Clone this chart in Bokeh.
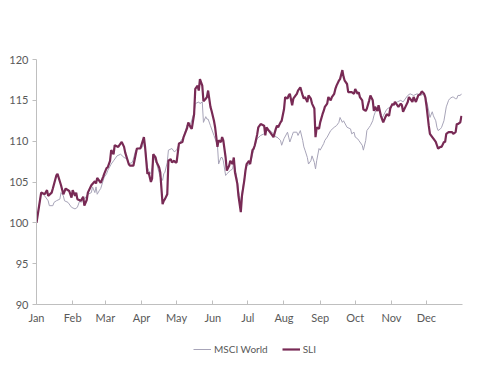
import pandas as pd
from bokeh.plotting import figure
from bokeh.layouts import column
from bokeh.models import (ColumnDataSource, Legend, LegendItem, MonthsTicker,
                          DatetimeTickFormatter, FixedTicker, Range1d)
from bokeh.embed import file_html
from bokeh.resources import INLINE

base_date = "2015-01-01"

# SLI series: day offset from Jan 1, index value
sli_day = [0, 4, 7, 9, 10, 13, 14, 17, 18, 21, 23, 25, 28, 30, 31, 33, 34, 35, 38, 40,
           41, 43, 44, 47, 50, 51, 52, 55, 57, 58, 60, 61, 63, 64, 66, 67, 70, 73, 75, 76,
           79, 80, 83, 86, 89, 92, 93, 95, 96, 98, 99, 100, 102, 103, 105, 106, 108, 109, 110, 112,
           113, 115, 116, 118, 119, 120, 122, 125, 126, 129, 130, 132, 133, 135, 136, 138, 139, 140, 142, 143,
           145, 146, 147, 149, 150, 152, 153, 155, 156, 158, 159, 160, 162, 163, 165, 166, 168, 169, 170, 172,
           173, 175, 176, 178, 179, 180, 182, 183, 185, 186, 187, 189, 190, 192, 195, 196, 197, 199, 200, 202,
           203, 205, 206, 207, 209, 210, 212, 213, 215, 216, 217, 219, 220, 222, 223, 224, 226, 228, 229, 230,
           232, 233, 235, 236, 238, 239, 240, 242, 243, 245, 246, 247, 249, 250, 252, 253, 255, 256, 257, 259,
           260, 262, 263, 264, 266, 267, 269, 270, 272, 273, 275, 276, 277, 279, 280, 282, 283, 285, 286, 288,
           289, 290, 292, 293, 295, 296, 297, 299, 300, 302, 303, 305, 306, 307, 309, 310, 312, 313, 314, 316,
           318, 319, 320, 322, 323, 325, 326, 327, 329, 330, 332, 333, 334, 336, 337, 339, 340, 342, 343, 344,
           346, 347, 349, 350, 351, 353, 354, 356, 357, 359, 360, 361, 363, 364]
sli_val = [100.0, 103.7, 103.5, 104.0, 103.3, 103.7, 104.2, 105.8, 106.0, 104.6, 103.5, 104.2, 103.9, 103.1, 104.0, 103.3, 103.7, 102.9, 102.7, 103.2,
           102.1, 102.8, 103.7, 104.6, 105.1, 104.8, 105.5, 104.9, 105.6, 106.0, 106.7, 106.8, 107.6, 108.9, 108.4, 109.5, 109.3, 109.9, 109.3, 108.6,
           107.2, 107.0, 107.0, 109.1, 109.1, 110.5, 109.3, 106.0, 106.2, 105.0, 105.4, 108.4, 108.0, 107.4, 106.8, 106.2, 102.3, 102.7, 102.9, 103.5,
           107.6, 107.8, 107.4, 107.6, 107.4, 107.4, 109.7, 109.9, 110.5, 111.6, 112.3, 111.7, 111.5, 113.3, 116.4, 116.8, 116.2, 117.6, 116.8, 114.9,
           115.2, 115.4, 116.2, 114.2, 113.7, 112.5, 111.7, 109.3, 110.1, 109.9, 110.5, 110.1, 108.0, 106.4, 107.0, 107.6, 107.2, 108.0, 106.2, 104.8,
           103.3, 101.3, 103.3, 105.2, 106.4, 107.2, 107.6, 107.2, 108.9, 109.1, 109.5, 110.8, 111.7, 112.1, 111.9, 110.7, 111.7, 111.3, 111.1, 110.7,
           110.5, 111.5, 111.9, 111.7, 112.3, 112.5, 113.9, 115.4, 115.2, 115.6, 115.8, 114.4, 115.2, 115.6, 115.8, 116.2, 116.6, 115.6, 115.2, 115.4,
           114.8, 115.6, 115.2, 114.6, 114.0, 110.5, 111.7, 111.5, 112.3, 113.3, 113.7, 114.2, 114.6, 115.4, 115.0, 115.4, 115.8, 116.4, 116.8, 117.4,
           117.6, 118.7, 117.9, 117.4, 117.0, 116.0, 116.0, 116.0, 115.8, 116.4, 115.8, 116.0, 115.4, 115.0, 113.9, 113.7, 114.0, 115.0, 115.6, 115.0,
           113.7, 114.2, 113.7, 114.4, 113.1, 112.7, 112.3, 113.0, 113.3, 113.1, 114.0, 114.6, 114.4, 114.8, 114.4, 114.2, 114.6, 114.4, 113.6, 114.2,
           114.8, 115.4, 115.2, 114.8, 115.4, 114.8, 115.2, 115.6, 115.8, 116.1, 115.8, 115.4, 114.4, 111.9, 110.9, 110.5, 110.3, 109.9, 109.5, 109.1,
           109.3, 109.3, 109.9, 109.9, 110.9, 111.1, 111.1, 111.1, 110.9, 111.1, 112.1, 112.1, 112.3, 113.1]

# MSCI World series
msci_day = [0, 4, 7, 10, 11, 14, 15, 17, 20, 21, 23, 24, 27, 30, 33, 35, 37, 38, 41, 44,
            47, 48, 50, 51, 52, 54, 55, 58, 60, 61, 64, 66, 69, 72, 75, 78, 79, 82, 83, 85,
            87, 91, 92, 93, 95, 96, 98, 99, 100, 103, 106, 108, 109, 110, 112, 113, 116, 118, 120, 123,
            126, 129, 132, 135, 136, 139, 140, 142, 143, 145, 146, 147, 149, 152, 155, 156, 158, 159, 160, 162,
            163, 166, 168, 169, 172, 173, 175, 176, 178, 179, 180, 183, 186, 189, 192, 195, 197, 200, 203, 205,
            206, 209, 210, 212, 215, 216, 217, 219, 220, 223, 224, 226, 228, 229, 230, 232, 233, 235, 236, 238,
            239, 240, 242, 243, 246, 247, 249, 252, 255, 257, 259, 260, 262, 263, 266, 269, 270, 272, 273, 275,
            276, 277, 279, 280, 282, 283, 285, 286, 288, 289, 290, 292, 295, 296, 297, 300, 303, 306, 309, 312,
            314, 318, 320, 323, 326, 329, 332, 333, 334, 336, 337, 339, 340, 342, 343, 344, 346, 347, 349, 351,
            353, 354, 356, 357, 359, 360, 361, 363, 364]
msci_val = [100.0, 103.7, 103.3, 102.7, 102.1, 102.1, 102.5, 102.7, 102.9, 103.7, 103.3, 102.7, 102.5, 101.9, 101.7, 101.9, 102.7, 102.5, 102.9, 103.5,
            103.7, 104.4, 103.7, 104.4, 103.5, 104.0, 104.2, 105.6, 106.0, 106.4, 107.2, 107.6, 108.2, 108.4, 108.0, 107.8, 107.2, 107.4, 107.8, 108.9,
            109.1, 109.3, 110.3, 109.3, 106.8, 106.4, 106.0, 106.8, 108.2, 107.2, 105.6, 105.2, 106.0, 106.2, 107.4, 108.9, 109.1, 108.7, 108.9, 109.9,
            110.5, 112.0, 112.1, 113.5, 114.6, 114.8, 114.6, 114.8, 112.3, 113.0, 112.7, 112.7, 111.9, 110.7, 109.5, 107.2, 108.0, 108.0, 107.6, 105.8,
            106.0, 106.4, 106.6, 107.6, 105.2, 103.9, 102.5, 103.7, 105.4, 106.4, 107.0, 107.2, 108.9, 110.3, 110.7, 110.9, 111.3, 111.3, 110.9, 110.5,
            110.5, 110.1, 109.5, 110.3, 111.1, 110.5, 109.9, 110.7, 111.1, 111.1, 110.7, 111.3, 110.1, 109.3, 108.9, 108.0, 107.2, 107.6, 108.2, 107.4,
            106.6, 107.6, 109.1, 108.9, 109.7, 110.1, 110.5, 111.3, 111.7, 111.9, 112.3, 112.9, 112.3, 112.5, 111.7, 111.5, 110.9, 111.1, 110.5, 110.3,
            110.1, 109.9, 109.5, 108.9, 110.1, 111.3, 111.7, 111.9, 112.5, 113.1, 113.5, 114.2, 113.3, 112.7, 113.1, 113.9, 114.2, 114.6, 114.8, 115.0,
            114.8, 115.6, 115.8, 115.6, 115.8, 115.6, 115.8, 115.6, 115.0, 113.7, 112.9, 113.6, 113.1, 112.5, 111.7, 111.3, 111.5, 111.7, 112.5, 114.2,
            115.0, 115.2, 115.4, 115.4, 115.2, 115.2, 115.6, 115.6, 115.8]

y_ticks = [90, 95, 100, 105, 110, 115, 120]
series_names = ["MSCI World", "SLI"]

start = pd.Timestamp(base_date)
sli_src = ColumnDataSource(dict(x=start + pd.to_timedelta(sli_day, unit="D"), y=sli_val))
msci_src = ColumnDataSource(dict(x=start + pd.to_timedelta(msci_day, unit="D"), y=msci_val))

x_end = start + pd.Timedelta(days=364.9)

p = figure(frame_width=426, frame_height=245, x_axis_type="datetime", output_backend="svg",
           toolbar_location=None, x_range=Range1d(start, x_end), y_range=Range1d(90, 120),
           min_border_left=36, min_border_right=10, min_border_top=59, min_border_bottom=30)
p.outline_line_color = None
p.grid.visible = False
p.background_fill_color = "white"
p.border_fill_color = "white"

grey_color = "#a7a4b8"
sli_color = "#782a55"

p.line("x", "y", source=msci_src, line_color=grey_color, line_width=1.0)
p.line("x", "y", source=sli_src, line_color=sli_color, line_width=2.2)

font = "Lato"
label_color = "#595959"
axis_color = "#bfbfbf"

p.xaxis.ticker = MonthsTicker(months=list(range(12)))
p.xaxis.formatter = DatetimeTickFormatter(months="%b", days="%b")
p.yaxis.ticker = FixedTicker(ticks=y_ticks)

for ax in (p.xaxis[0], p.yaxis[0]):
    ax.axis_line_color = axis_color
    ax.major_tick_line_color = axis_color
    ax.minor_tick_line_color = None
    ax.major_label_text_font = font
    ax.major_label_text_font_size = "11px"
    ax.major_label_text_color = label_color
    ax.major_label_standoff = 4

p.yaxis.major_tick_out = 4
p.yaxis.major_tick_in = 0
p.xaxis.major_tick_out = 0
p.xaxis.major_tick_in = 4
p.xaxis.major_label_standoff = 6

# Legend strip (separate small figure below the chart); its line renderers
# sit outside the visible range so only their legend swatches show
lg = figure(width=472, height=30, output_backend="svg", toolbar_location=None,
            x_range=Range1d(0, 1), y_range=Range1d(0, 1),
            x_axis_location=None, y_axis_location=None,
            min_border=0)
lg.outline_line_color = None
lg.grid.visible = False
lg_msci = lg.line(x=[2, 3], y=[2, 3], line_color=grey_color, line_width=1.0)
lg_sli = lg.line(x=[2, 3], y=[2, 3], line_color=sli_color, line_width=2.2)

legend = Legend(items=[LegendItem(label=series_names[0], renderers=[lg_msci]),
                       LegendItem(label=series_names[1], renderers=[lg_sli])],
                location=(157, 9), orientation="horizontal")
legend.label_text_font = font
legend.label_text_font_size = "10px"
legend.label_text_color = label_color
legend.border_line_color = None
legend.background_fill_alpha = 0
legend.glyph_width = 18
legend.glyph_height = 12
legend.label_height = 12
legend.spacing = 14
legend.label_standoff = 3
legend.margin = 0
legend.padding = 0
lg.add_layout(legend, "center")

layout = column(p, lg, spacing=0)
open("out.html", "w").write(file_html(layout, INLINE))
